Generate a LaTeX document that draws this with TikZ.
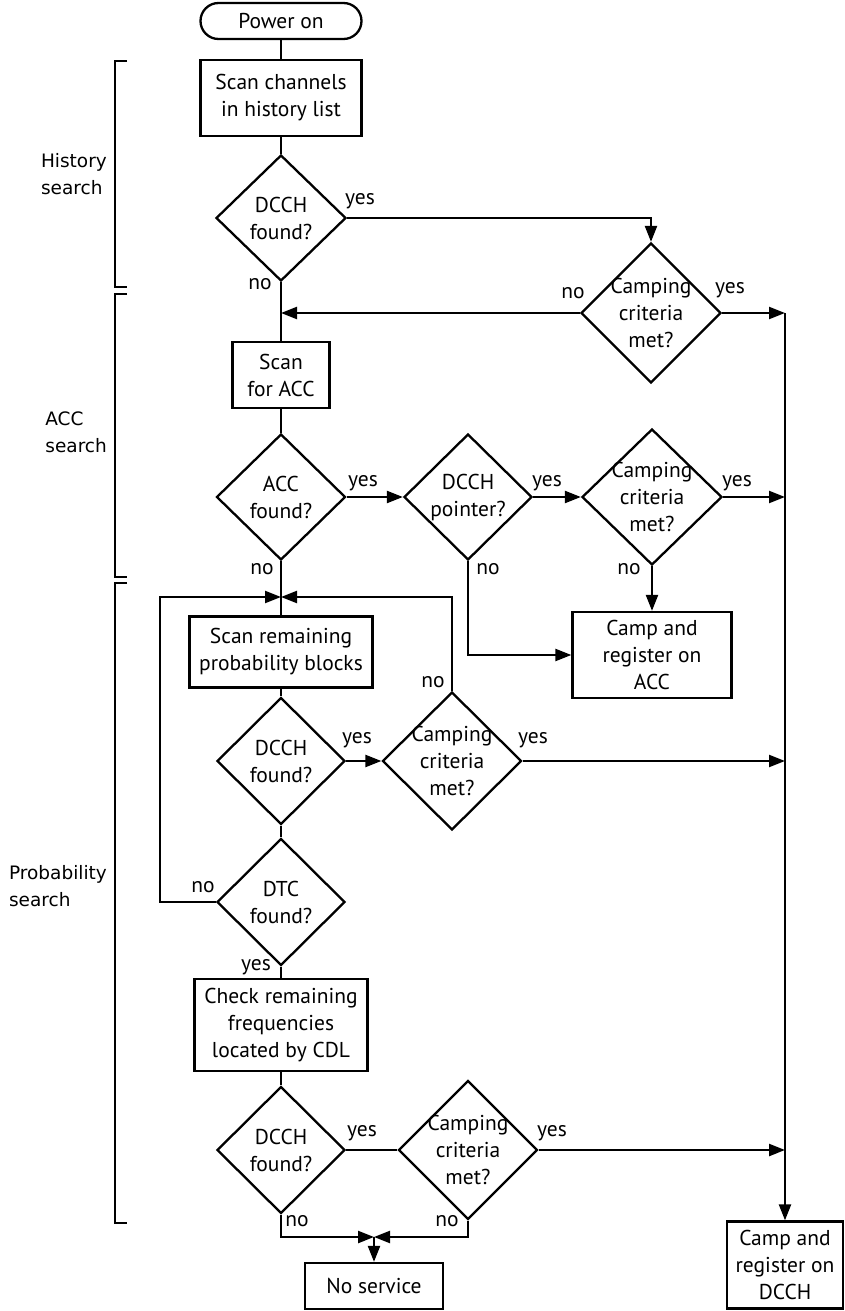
\documentclass[tikz,border=0pt]{standalone}
\usepackage{fontspec}
\setmainfont{PT Sans}
\newfontfamily\sidefont{DejaVu Sans}
\usetikzlibrary{shapes.geometric, arrows.meta}

\begin{document}
\begin{tikzpicture}[x=1pt, y=-1pt, line width=2.3pt,
        >={Triangle[length=16pt,width=12pt]},
        font=\fontsize{21.5}{27}\selectfont,
        box/.style={draw, rectangle, align=center, inner sep=0pt},
        dec/.style={draw, diamond, align=center, inner sep=-8pt},
        side/.style={align=left, anchor=east, inner sep=0pt,
            font=\sidefont\fontsize{18.5}{27}\selectfont}]
            \useasboundingbox (0,0) rectangle (844,1311);

            % section brackets
            \draw (127,61) -- (115,61) -- (115,287) -- (127,287);
                \node[side] (hist) at (108,174) {History\\search};
            \draw (127,294) -- (115,294) -- (115,577) -- (127,577);
                \node[side] (accs) at (108,432) {ACC\\search};
            \draw (127,583) -- (115,583) -- (115,1223) -- (127,1223);
                \node[side] (prob) at (108,886) {Probability\\search};

            % history search
            \node[box, rounded corners=18pt, minimum width=161pt, minimum height=36pt] (power) at (281,21) {Power on};
            \node[box, minimum width=161pt, minimum height=76pt] (scanh) at (281,98) {Scan channels\\in history list};
            \node[dec, minimum width=130pt, minimum height=126pt] (dh) at (281,218) {DCCH\\found?};
                \node (yh) at (360,201) {yes};
                \node (nh) at (260,284) {no};
            \node[dec, minimum width=140pt, minimum height=140pt] (ch) at (651,313) {Camping\\criteria\\met?};
                \node (nch) at (573,293) {no};
                \node (ych) at (730,290) {yes};

            % ACC search
            \node[box, minimum width=97pt, minimum height=66pt] (scana) at (281,375) {Scan\\for ACC};
            \node[dec, minimum width=129pt, minimum height=126pt] (da) at (281,497) {ACC\\found?};
                \node (yda) at (363,483) {yes};
                \node (nda) at (262,569) {no};
            \node[dec, minimum width=128pt, minimum height=126pt] (pa) at (468,497) {DCCH\\pointer?};
                \node (ypa) at (547,483) {yes};
                \node (npa) at (488,569) {no};
            \node[dec, minimum width=140pt, minimum height=136pt] (ca) at (652,497) {Camping\\criteria\\met?};
                \node (yca) at (737,483) {yes};
                \node (nca) at (629,569) {no};
            \node[box, minimum width=159pt, minimum height=86pt] (campa) at (652,655) {Camp and\\register on\\ACC};

            % probability search
            \node[box, minimum width=183pt, minimum height=71pt] (scanp) at (281,652) {Scan remaining\\probability blocks};
            \node[dec, minimum width=128pt, minimum height=127pt] (dp) at (281,761) {DCCH\\found?};
                \node (ydp) at (357,740) {yes};
            \node[dec, minimum width=139pt, minimum height=138pt] (cp) at (452,761) {Camping\\criteria\\met?};
                \node (ncp) at (433,682) {no};
                \node (ycp) at (533,740) {yes};
            \node[dec, minimum width=128pt, minimum height=127pt] (dtc) at (281,902) {DTC\\found?};
                \node (ndtc) at (203,887) {no};
                \node (ydtc) at (256,967) {yes};
            \node[box, minimum width=173pt, minimum height=92pt] (chk) at (281,1025) {Check remaining\\frequencies\\located by CDL};
            \node[dec, minimum width=128pt, minimum height=127pt] (dc) at (281,1150) {DCCH\\found?};
                \node (ydc) at (362,1133) {yes};
                \node (ndc) at (297,1221) {no};
            \node[dec, minimum width=139pt, minimum height=139pt] (cc) at (468,1150) {Camping\\criteria\\met?};
                \node (ycc) at (552,1133) {yes};
                \node (ncc) at (447,1221) {no};
            \node[box, minimum width=138pt, minimum height=46pt] (nosvc) at (374,1286) {No service};
            \node[box, minimum width=116pt, minimum height=87pt] (campd) at (785,1265) {Camp and\\register on\\DCCH};

            \coordinate (mrg) at (281,597);
            \coordinate (jn) at (374,1237);

            % connectors
            \draw (power.south) -- (scanh.north);
            \draw (scanh.south) -- (dh.north);
            \draw (dh.south) -- (scana.north);
            \draw[->] (dh.east) -| (ch.north);
            \draw[->] (ch.west) -- (ch.west -| dh.south);
            \draw[->] (ch.east) -- (ch.east -| campd.north);
            \draw[->] (ch.east -| campd.north) -- (campd.north);

            \draw (scana.south) -- (da.north);
            \draw[->] (da.east) -- (pa.west);
            \draw[->] (pa.east) -- (ca.west);
            \draw[->] (ca.east) -- (ca.east -| campd.north);
            \draw[->] (ca.south) -- (campa.north);
            \draw[->] (pa.south) |- (campa.west);

            \draw (da.south) -- (scanp.north);
            \draw[->] (dtc.west) -- ++(-56,0) |- (mrg);
            \draw[->] (cp.north) |- (mrg);
            \draw (scanp.south) -- (dp.north);
            \draw[->] (dp.east) -- (cp.west);
            \draw[->] (cp.east) -- (cp.east -| campd.north);
            \draw (dp.south) -- (dtc.north);
            \draw (dtc.south) -- (chk.north);
            \draw (chk.south) -- (dc.north);
            \draw (dc.east) -- (cc.west);
            \draw[->] (cc.east) -- (cc.east -| campd.north);
            \draw[->] (dc.south) |- (jn);
            \draw[->] (cc.south) |- (jn);
            \draw[->] (jn) -- (nosvc.north);
      \end{tikzpicture}
\end{document}
